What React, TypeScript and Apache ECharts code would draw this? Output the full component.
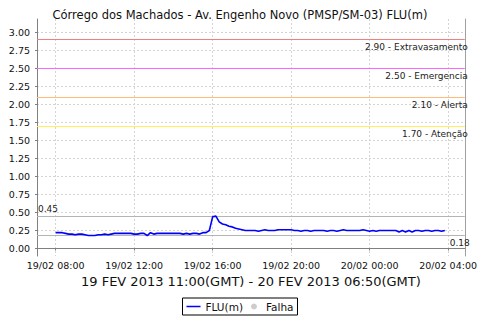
import React, { useEffect, useRef } from "react";
import * as echarts from "echarts";

const TITLE = "Córrego dos Machados - Av. Engenho Novo (PMSP/SM-03) FLU(m)";
const SUBTITLE = "19 FEV 2013 11:00(GMT) - 20 FEV 2013 06:50(GMT)";
const SERIES_NAME = "FLU(m)";
const FAIL_NAME = "Falha";

// start of readings (local time, stored as UTC) and step in minutes
const START = Date.UTC(2013, 1, 19, 8, 0);
const STEP_MIN = 10;

// FLU(m) readings every 10 minutes, 08:00 -> 03:50
const fluValues = [
  0.22, 0.22, 0.22, 0.21, 0.2, 0.2, // 08h
  0.19, 0.2, 0.2, 0.19, 0.18, 0.18, // 09h
  0.18, 0.19, 0.19, 0.2, 0.19, 0.2, // 10h
  0.21, 0.21, 0.21, 0.21, 0.21, 0.21, // 11h
  0.2, 0.2, 0.21, 0.21, 0.18, 0.22, // 12h
  0.2, 0.21, 0.21, 0.21, 0.21, 0.21, // 13h
  0.21, 0.21, 0.21, 0.2, 0.21, 0.2, // 14h
  0.21, 0.21, 0.2, 0.22, 0.22, 0.25, // 15h
  0.44, 0.45, 0.37, 0.34, 0.33, 0.31, // 16h
  0.3, 0.28, 0.27, 0.26, 0.25, 0.25, // 17h
  0.25, 0.25, 0.24, 0.25, 0.26, 0.25, // 18h
  0.25, 0.25, 0.26, 0.26, 0.26, 0.26, // 19h
  0.26, 0.25, 0.25, 0.24, 0.25, 0.25, // 20h
  0.24, 0.25, 0.25, 0.25, 0.25, 0.24, // 21h
  0.25, 0.25, 0.24, 0.25, 0.26, 0.25, // 22h
  0.25, 0.25, 0.25, 0.25, 0.26, 0.25, // 23h
  0.24, 0.25, 0.24, 0.25, 0.25, 0.25, // 00h
  0.25, 0.25, 0.25, 0.23, 0.25, 0.23, // 01h
  0.25, 0.23, 0.25, 0.25, 0.24, 0.25, // 02h
  0.25, 0.24, 0.25, 0.25, 0.24, 0.25, // 03h
];

const xTicks = [
  Date.UTC(2013, 1, 19, 8, 0),
  Date.UTC(2013, 1, 19, 12, 0),
  Date.UTC(2013, 1, 19, 16, 0),
  Date.UTC(2013, 1, 19, 20, 0),
  Date.UTC(2013, 1, 20, 0, 0),
  Date.UTC(2013, 1, 20, 4, 0),
];
const X_MIN = Date.UTC(2013, 1, 19, 7, 3);
const X_MAX = Date.UTC(2013, 1, 20, 4, 51);

const yTicks = [0, 0.25, 0.5, 0.75, 1, 1.25, 1.5, 1.75, 2, 2.25, 2.5, 2.75, 3];
const Y_MIN = -0.1042;
const Y_MAX = 3.1875;

const thresholdValues = [2.9, 2.5, 2.1, 1.7];
const thresholdNames = ["Extravasamento", "Emergencia", "Alerta", "Atenção"];
const thresholdColors = ["#f08080", "#ff66ff", "#ffbb77", "#ffee55"];

const MAX_VALUE = 0.45;
const MIN_VALUE = 0.18;

const FONT = "DejaVu Sans";

function pad(n: number) {
  return n < 10 ? "0" + n : "" + n;
}
function fmtTime(v: number) {
  const d = new Date(v);
  return (
    pad(d.getUTCDate()) + "/" + pad(d.getUTCMonth() + 1) + " " + pad(d.getUTCHours()) + ":" + pad(d.getUTCMinutes())
  );
}

export default function App() {
  const ref = useRef<HTMLDivElement>(null);
  useEffect(() => {
    if (!ref.current) return;
    const chart = echarts.init(ref.current, null, { renderer: "svg" });
    const data = fluValues.map((v, i) => [START + i * STEP_MIN * 60000, v]);
    const labelBase = { show: true, color: "#222", fontFamily: FONT, fontSize: 9 };
    const markData: any[] = thresholdValues.map((v, i) => ({
      yAxis: v,
      lineStyle: { color: thresholdColors[i], type: "solid", width: 1, opacity: 1 },
      label: {
        ...labelBase,
        position: "insideEndBottom",
        formatter: v.toFixed(2) + " - " + thresholdNames[i],
        distance: [-3, 3],
      },
    }));
    markData.push({
      yAxis: MAX_VALUE,
      lineStyle: { color: "#b4b4b4", type: "solid", width: 1, opacity: 1 },
      label: { ...labelBase, position: "insideStartTop", formatter: MAX_VALUE.toFixed(2), distance: [1, 3] },
    });
    markData.push({
      yAxis: MIN_VALUE,
      lineStyle: { color: "#b4b4b4", type: "solid", width: 1, opacity: 1 },
      label: { ...labelBase, position: "insideEndBottom", formatter: MIN_VALUE.toFixed(2), distance: [-5, 3] },
    });

    chart.setOption({
      animation: false,
      backgroundColor: "#ffffff",
      title: {
        text: TITLE,
        left: "center",
        top: 4,
        textStyle: { fontFamily: FONT, fontSize: 11.5, fontWeight: "normal", color: "#111" },
      },
      legend: {
        data: [
          { name: SERIES_NAME, icon: "path://M0,0H28V3H0Z" },
          { name: FAIL_NAME, icon: "circle" },
        ],
        left: "center",
        top: 298,
        padding: [3, 4],
        borderColor: "#000",
        borderWidth: 1,
        borderRadius: 0,
        itemWidth: 14,
        itemHeight: 6,
        itemGap: 8,
        textStyle: { fontFamily: FONT, fontSize: 10.5, color: "#111" },
      },
      grid: { left: 37, right: 8, top: 19, bottom: 64, containLabel: false },
      xAxis: {
        type: "value",
        min: X_MIN,
        max: X_MAX,
        name: SUBTITLE,
        nameLocation: "middle",
        nameGap: 19,
        nameTextStyle: { fontFamily: FONT, fontSize: 13, color: "#111" },
        axisLine: { show: true, lineStyle: { color: "#808080", width: 1 } },
        axisTick: { show: true, length: 2, customValues: xTicks, lineStyle: { color: "#808080" } },
        axisLabel: {
          customValues: xTicks,
          formatter: (v: number) => fmtTime(v),
          fontFamily: FONT,
          fontSize: 9.5,
          color: "#111",
          margin: 4,
        },
        splitLine: { show: true, lineStyle: { color: "#d4d4d4", type: [2, 2], width: 1 } },
      },
      yAxis: [
        {
          type: "value",
          min: Y_MIN,
          max: Y_MAX,
          axisLine: { show: true, lineStyle: { color: "#808080", width: 1 } },
          axisTick: { show: true, length: 2, customValues: yTicks, lineStyle: { color: "#808080" } },
          axisLabel: {
            customValues: yTicks,
            formatter: (v: number) => v.toFixed(2),
            fontFamily: FONT,
            fontSize: 9.5,
            color: "#111",
            margin: 7,
          },
          splitLine: { show: true, lineStyle: { color: "#d4d4d4", type: [2, 2], width: 1 } },
        },
        {
          type: "value",
          position: "right",
          min: Y_MIN,
          max: Y_MAX,
          axisLine: { show: true, lineStyle: { color: "#a0a0a0", width: 1 } },
          axisTick: { show: false },
          axisLabel: { show: false },
          splitLine: { show: false },
        },
      ],
      series: [
        {
          name: SERIES_NAME,
          type: "line",
          data,
          symbol: "none",
          lineStyle: { color: "#0000ff", width: 1.6 },
          itemStyle: { color: "#0000ff" },
          markLine: {
            silent: true,
            symbol: "none",
            data: markData,
          },
          z: 5,
        },
        {
          name: FAIL_NAME,
          type: "scatter",
          data: [],
          itemStyle: { color: "#c0c0c0" },
        },
      ],
    });
    return () => chart.dispose();
  }, []);
  return <div ref={ref} style={{ width: 480, height: 320, position: "absolute", left: 0, top: 0 }} />;
}
